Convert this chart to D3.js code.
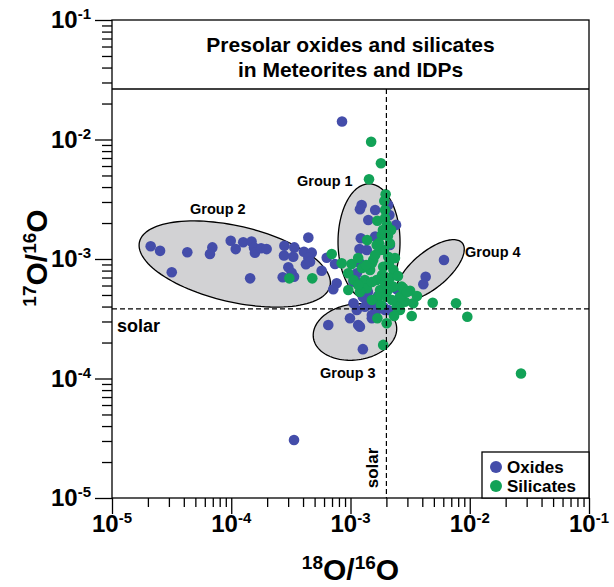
<!DOCTYPE html>
<html>
<head>
<meta charset="utf-8">
<script src="https://cdn.jsdelivr.net/npm/d3@7"></script>
<style>
  html, body { margin: 0; padding: 0; background: #fff; }
  svg text { font-family: "Liberation Sans", Arial, Helvetica, sans-serif; font-weight: bold; fill: #000; }
</style>
</head>
<body>
<svg id="chart" width="614" height="587"></svg>
<script>
// Oxygen isotope ratios of presolar grains: [18O/16O, 17O/16O]
const oxides = [
  [2.11e-5, 1.28e-3], [2.53e-5, 1.17e-3], [3.17e-5, 7.74e-4], [4.28e-5, 1.14e-3],
  [6.94e-5, 1.25e-3], [6.63e-5, 1.10e-3], [9.9e-5, 1.42e-3], [1.09e-4, 1.21e-3],
  [1.26e-4, 1.38e-3], [1.48e-4, 1.40e-3], [1.55e-4, 1.25e-3], [1.58e-4, 1.13e-3],
  [1.78e-4, 1.23e-3], [1.98e-4, 1.21e-3], [1.44e-4, 6.89e-4], [2.79e-4, 1.29e-3],
  [2.77e-4, 1.07e-3], [3.38e-4, 1.25e-3], [3.31e-4, 1.045e-3], [4.43e-4, 1.51e-3],
  [4.07e-4, 1.15e-3], [4.73e-4, 1.13e-3], [4.43e-4, 1.025e-3], [4.23e-4, 9.03e-4],
  [3.01e-4, 8.52e-4], [3.21e-4, 7.68e-4], [3.36e-4, 7.11e-4], [2.70e-4, 7.03e-4],
  [5.73e-4, 7.98e-4], [6.32e-4, 1.025e-3], [7.41e-4, 9.08e-4], [7.66e-4, 6.26e-4],
  [7.17e-4, 5.58e-4], [4.58e-4, 9.49e-4],
  [8.49e-4, 1.415e-2], [3.36e-4, 3.06e-5],
  [1.24e-3, 2.83e-3], [1.20e-3, 2.61e-3], [1.61e-3, 2.57e-3], [1.41e-3, 2.12e-3],
  [2.07e-3, 2.83e-3], [2.12e-3, 2.33e-3], [2.41e-3, 1.93e-3], [1.22e-3, 1.49e-3],
  [1.61e-3, 1.54e-3], [1.19e-3, 1.21e-3], [1.37e-3, 1.19e-3], [2.14e-3, 1.31e-3],
  [1.20e-3, 9.20e-4], [1.13e-3, 7.59e-4], [1.06e-3, 6.46e-4], [1.09e-3, 6.67e-4],
  [2.60e-3, 5.69e-4],
  [6.08e-3, 9.81e-4], [4.27e-3, 7.11e-4], [4.08e-3, 6.14e-4], [2.44e-3, 5.58e-4],
  [6.51e-4, 2.80e-4], [1.27e-3, 1.76e-4], [9.9e-4, 3.19e-4], [1.16e-3, 2.80e-4],
  [1.13e-3, 3.74e-4], [1.32e-3, 3.99e-4], [1.51e-3, 3.40e-4], [1.66e-3, 3.74e-4],
  [1.95e-3, 3.74e-4], [1.06e-3, 4.26e-4], [1.46e-3, 4.26e-4], [1.20e-3, 2.71e-4],
  [1.51e-3, 3.19e-4], [1.88e-3, 3.99e-4], [2.07e-3, 3.74e-4], [1.37e-3, 4.26e-4],
  [1.66e-3, 4.39e-4], [1.40e-3, 5.29e-4], [1.70e-3, 4.90e-4], [1.27e-3, 4.81e-4]
];

const silicates = [
  [1.49e-3, 9.58e-3], [1.80e-3, 6.32e-3], [1.43e-3, 4.65e-3], [1.97e-3, 3.48e-3],
  [1.92e-3, 3.06e-3], [1.68e-3, 2.09e-3], [1.38e-3, 1.44e-3], [6.96e-4, 1.10e-3],
  [8.44e-4, 9.20e-4], [9.58e-4, 5.50e-4], [1.68e-3, 3.19e-4], [2.01e-3, 2.90e-4],
  [1.88e-3, 1.91e-4], [4.89e-3, 4.31e-4], [7.67e-3, 4.26e-4], [9.54e-3, 3.29e-4],
  [2.69e-2, 1.10e-4], [3.07e-4, 6.89e-4], [4.78e-4, 6.89e-4], [2.69e-3, 5.87e-4],
  [3.16e-3, 5.43e-4], [3.26e-3, 3.33e-4], [2.86e-3, 4.39e-4], [3.36e-3, 4.26e-4],
  [2.44e-3, 4.39e-4], [2.60e-3, 3.74e-4], [1.02e-3, 9.08e-4], [9.58e-4, 7.59e-4],
  [1.06e-3, 6.67e-4], [1.83e-3, 1.59e-3], [1.77e-3, 1.19e-3], [1.55e-3, 9.81e-4],
  [1.46e-3, 8.09e-4], [1.32e-3, 6.67e-4], [1.37e-3, 5.69e-4], [1.66e-3, 6.67e-4],
  [1.77e-3, 5.50e-4], [1.71e-3, 4.84e-4], [1.95e-3, 6.26e-4], [2.01e-3, 4.84e-4],
  [1.88e-3, 8.62e-4], [2.07e-3, 1.045e-3], [2.14e-3, 1.35e-3], [2.29e-3, 8.09e-4],
  [2.29e-3, 5.87e-4], [2.60e-3, 4.84e-4], [2.77e-3, 5.69e-4], [2.44e-3, 3.99e-4],
  [1.51e-3, 9.20e-4], [1.95e-3, 2.57e-3], [2.02e-3, 1.93e-3], [1.87e-3, 1.75e-3],
  [2.06e-3, 1.56e-3], [1.91e-3, 1.19e-3], [2.10e-3, 9.08e-4], [1.91e-3, 7.21e-4],
  [2.14e-3, 6.93e-4], [1.80e-3, 4.12e-4], [1.16e-3, 1.02e-3], [1.25e-3, 8.41e-4],
  [1.51e-3, 6.42e-4], [2.36e-3, 1.02e-3], [2.50e-3, 7.21e-4], [1.20e-3, 5.29e-4],
  [1.51e-3, 4.54e-4], [3.61e-3, 4.90e-4], [2.98e-3, 5.29e-4], [2.32e-3, 3.33e-4],
  [2.19e-3, 1.75e-3], [1.73e-3, 1.36e-3], [1.61e-3, 1.08e-3], [1.84e-3, 7.35e-4],
  [2.06e-3, 5.50e-4], [2.23e-3, 4.54e-4], [1.35e-3, 8.91e-4], [1.16e-3, 6.06e-4],
  [1.66e-3, 1.31e-3], [1.95e-3, 2.20e-3]
];

// Solar reference ratios
const solar18 = 2.0e-3;
const solar17 = 3.82e-4;

// Grain groups: centre (ratios), semi-axes in decades, tilt in degrees (log-log space)
const groupNames = ["Group 1", "Group 2", "Group 3", "Group 4"];
const groupCentres = [[1.43e-3, 1.39e-3], [1.07e-4, 9.08e-4], [1.09e-3, 2.45e-4], [4.65e-3, 8.09e-4]];
const groupAxes = [[0.486, 0.26], [0.82, 0.318], [0.352, 0.234], [0.352, 0.151]];
const groupTilt = [90, -13, 8, 40];

const tickValues = [1e-5, 1e-4, 1e-3, 1e-2, 1e-1];
const tickExponents = ["-5", "-4", "-3", "-2", "-1"];
const legendLabels = ["Oxides", "Silicates"];
const colors = { oxide: "#444daa", silicate: "#12a257" };

const svg = d3.select("#chart");
const M = { left: 112, right: 589, top: 20, bottom: 498, titleBottom: 89 };

const x = d3.scaleLog().domain([1e-5, 1e-1]).range([M.left, M.right]);
const y = d3.scaleLog().domain([1e-5, 1e-1]).range([M.bottom, M.top]);

const minor = [];
for (let e = -5; e < -1; e++) for (let m = 2; m <= 9; m++) minor.push(m * Math.pow(10, e));

// Axes: major and minor ticks pointing outward
function styleAxis(g) {
  g.select(".domain").remove();
  g.selectAll("line").attr("stroke", "#000").attr("stroke-width", 1.3);
  g.selectAll("text").remove();
}
svg.append("g").attr("transform", `translate(0,${M.bottom})`)
  .call(d3.axisBottom(x).tickValues(tickValues).tickSize(16).tickFormat(""))
  .call(styleAxis);
svg.append("g").attr("transform", `translate(0,${M.bottom})`)
  .call(d3.axisBottom(x).tickValues(minor).tickSize(9).tickFormat(""))
  .call(styleAxis);
svg.append("g").attr("transform", `translate(${M.left},0)`)
  .call(d3.axisLeft(y).tickValues(tickValues).tickSize(17).tickFormat(""))
  .call(styleAxis);
svg.append("g").attr("transform", `translate(${M.left},0)`)
  .call(d3.axisLeft(y).tickValues(minor).tickSize(10).tickFormat(""))
  .call(styleAxis);

// Tick labels as powers of ten
const xl = svg.append("g").selectAll("text").data(tickValues).join("text")
  .attr("x", d => x(d)).attr("y", 532).attr("text-anchor", "middle").style("font-size", "24px");
xl.append("tspan").text("10");
xl.append("tspan").attr("dy", -9).style("font-size", "15px").text((d, i) => tickExponents[i]);

const yl = svg.append("g").selectAll("text").data(tickValues).join("text")
  .attr("x", 91).attr("y", d => y(d) + 8).attr("text-anchor", "end").style("font-size", "24px");
yl.append("tspan").text("10");
yl.append("tspan").attr("dy", -9).style("font-size", "15px").text((d, i) => tickExponents[i]);

// Group ellipses drawn in log-log space
const line = d3.line().curve(d3.curveLinearClosed);
groupCentres.forEach((c, i) => {
  const [a, b] = groupAxes[i];
  const phi = groupTilt[i] * Math.PI / 180;
  const lx = Math.log10(c[0]), ly = Math.log10(c[1]);
  const pts = d3.range(0, 360, 3).map(deg => {
    const t = deg * Math.PI / 180;
    const u = lx + a * Math.cos(t) * Math.cos(phi) - b * Math.sin(t) * Math.sin(phi);
    const v = ly + a * Math.cos(t) * Math.sin(phi) + b * Math.sin(t) * Math.cos(phi);
    return [x(Math.pow(10, u)), y(Math.pow(10, v))];
  });
  svg.append("path").attr("d", line(pts))
    .attr("fill", "#d2d2d4").attr("stroke", "#000").attr("stroke-width", 1.3);
});

// Grains
svg.append("g").selectAll("circle").data(oxides).join("circle")
  .attr("cx", d => x(d[0])).attr("cy", d => y(d[1])).attr("r", 5.3).attr("fill", colors.oxide);
svg.append("g").selectAll("circle").data(silicates).join("circle")
  .attr("cx", d => x(d[0])).attr("cy", d => y(d[1])).attr("r", 5.3).attr("fill", colors.silicate);

// Solar lines
svg.append("line").attr("x1", M.left).attr("x2", M.right).attr("y1", y(solar17)).attr("y2", y(solar17))
  .attr("stroke", "#000").attr("stroke-width", 1.2).attr("stroke-dasharray", "5,3");
svg.append("line").attr("x1", x(solar18)).attr("x2", x(solar18)).attr("y1", M.titleBottom).attr("y2", M.bottom)
  .attr("stroke", "#000").attr("stroke-width", 1.2).attr("stroke-dasharray", "5,3");
svg.append("text").attr("x", 117).attr("y", y(solar17) + 23).style("font-size", "18px").text("solar");
svg.append("text").attr("transform", `translate(${x(solar18) - 8},468) rotate(-90)`)
  .attr("text-anchor", "middle").style("font-size", "17px").text("solar");

// Group labels
const labelPos = [[297, 186], [190, 214], [320, 378], [465, 257]];
svg.append("g").selectAll("text").data(groupNames).join("text")
  .attr("x", (d, i) => labelPos[i][0]).attr("y", (d, i) => labelPos[i][1])
  .style("font-size", "14.5px").text(d => d);

// Frame and title panel
svg.append("rect").attr("x", M.left).attr("y", M.top).attr("width", M.right - M.left).attr("height", M.bottom - M.top)
  .attr("fill", "none").attr("stroke", "#000").attr("stroke-width", 1.3);
svg.append("line").attr("x1", M.left).attr("x2", M.right).attr("y1", M.titleBottom).attr("y2", M.titleBottom)
  .attr("stroke", "#000").attr("stroke-width", 1.3);
svg.append("text").attr("x", (M.left + M.right) / 2).attr("y", 52).attr("text-anchor", "middle")
  .style("font-size", "21px").text("Presolar oxides and silicates");
svg.append("text").attr("x", (M.left + M.right) / 2).attr("y", 77).attr("text-anchor", "middle")
  .style("font-size", "21px").text("in Meteorites and IDPs");

// Legend
const lg = svg.append("g");
lg.append("rect").attr("x", 482).attr("y", 452).attr("width", M.right - 482).attr("height", M.bottom - 452)
  .attr("fill", "#fff").attr("stroke", "#000").attr("stroke-width", 1.3);
[colors.oxide, colors.silicate].forEach((c, i) => {
  lg.append("circle").attr("cx", 496).attr("cy", 467 + i * 19).attr("r", 6).attr("fill", c);
  lg.append("text").attr("x", 507).attr("y", 473 + i * 19).style("font-size", "17px").text(legendLabels[i]);
});

// Axis titles with superscript mass numbers
function isoTitle(t, a, b) {
  t.append("tspan").attr("dy", -11).style("font-size", "19px").text(a);
  t.append("tspan").attr("dy", 11).text("O/");
  t.append("tspan").attr("dy", -11).style("font-size", "19px").text(b);
  t.append("tspan").attr("dy", 11).text("O");
}
svg.append("text").attr("x", (M.left + M.right) / 2).attr("y", 580).attr("text-anchor", "middle")
  .style("font-size", "30px").call(isoTitle, "18", "16");
svg.append("text").attr("transform", "translate(47,258) rotate(-90)").attr("text-anchor", "middle")
  .style("font-size", "30px").call(isoTitle, "17", "16");
</script>
</body>
</html>
